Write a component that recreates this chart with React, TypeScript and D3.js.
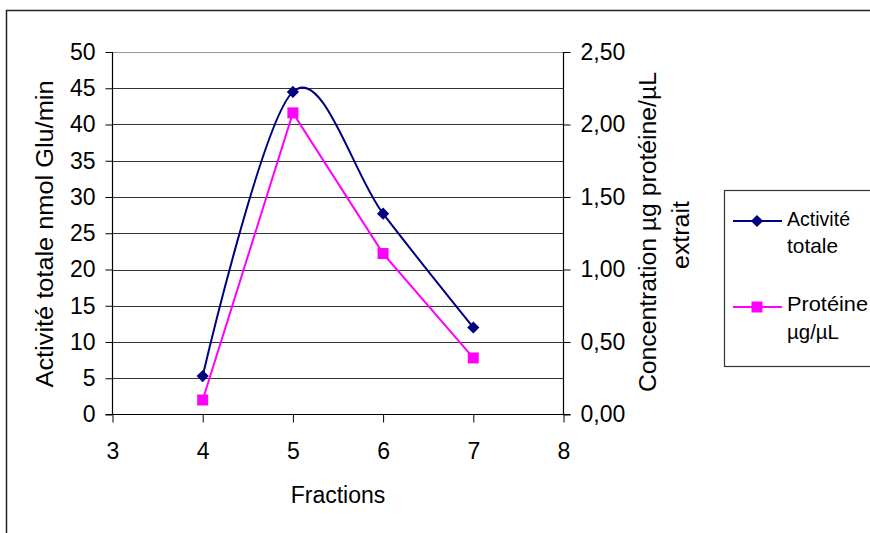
import * as d3 from "d3";
import {useEffect, useRef} from "react";

const fractions = [4, 5, 6, 7];
const activite = [5.3, 44.5, 27.7, 12.0];
const proteine = [0.1, 2.08, 1.11, 0.39];
const xTicks = [3, 4, 5, 6, 7, 8];
const yLeftTicks = [0, 5, 10, 15, 20, 25, 30, 35, 40, 45, 50];
const yRightTicks = [0, 0.5, 1, 1.5, 2, 2.5];

const W = 870, H = 533;
const FONT = "'Liberation Sans', Arial, sans-serif";

export default function App() {
    const svgRef = useRef<SVGSVGElement | null>(null);

    useEffect(() => {
        const svg = d3.select(svgRef.current);
        svg.selectAll("*").remove();

        const left = 112.5, right = 563.5, top = 52, bottom = 414.5;

        const x = d3.scaleLinear().domain([3, 8]).range([left, right]);
        const yL = d3.scaleLinear().domain([0, 50]).range([bottom, top]);
        const yR = d3.scaleLinear().domain([0, 2.5]).range([bottom, top]);

        // outer frame
        svg.append("rect")
            .attr("x", 6.5).attr("y", 10.5)
            .attr("width", W + 20).attr("height", H + 20)
            .attr("fill", "white").attr("stroke", "#222").attr("stroke-width", 1.5);

        // gridlines
        svg.append("g")
            .selectAll("line")
            .data(yLeftTicks.slice(1))
            .enter()
            .append("line")
            .attr("x1", left).attr("x2", right)
            .attr("y1", d => Math.round(yL(d)) + 0.5)
            .attr("y2", d => Math.round(yL(d)) + 0.5)
            .attr("stroke", d => d === 50 ? "#999" : "#333")
            .attr("stroke-width", 1);

        // axes
        const gL = svg.append("g")
            .attr("transform", `translate(${left},0)`)
            .call(d3.axisLeft(yL).tickValues(yLeftTicks).tickSize(7).tickPadding(10).tickFormat(d3.format("d")));
        const commaFmt = (d: number) => d3.format(".2f")(d).replace(".", ",");
        const gR = svg.append("g")
            .attr("transform", `translate(${right},0)`)
            .call(d3.axisRight(yR).tickValues(yRightTicks).tickSize(7).tickPadding(10).tickFormat(d => commaFmt(+d)));
        const gB = svg.append("g")
            .attr("transform", `translate(0,${bottom})`)
            .call(d3.axisBottom(x).tickValues(xTicks).tickSize(8).tickPadding(20).tickFormat(d3.format("d")));

        [gL, gR, gB].forEach(g => {
            g.attr("font-size", null).attr("font-family", null);
            g.select(".domain").attr("stroke", "#000").attr("stroke-width", 1.2);
            g.selectAll(".tick line").attr("stroke", "#000");
            g.selectAll(".tick text")
                .style("font-family", FONT)
                .style("font-size", "23px")
                .attr("fill", "#000");
        });
        gL.select(".domain").attr("d", `M0,${top}V${bottom}`);
        gR.select(".domain").attr("d", `M0,${top}V${bottom}`);
        gB.select(".domain").attr("d", `M${left - 7},0H${right + 7}`);

        // axis titles
        svg.append("text")
            .attr("transform", `translate(53,234) rotate(-90)`)
            .attr("text-anchor", "middle")
            .style("font-family", FONT).style("font-size", "23px")
            .attr("textLength", 307).attr("lengthAdjust", "spacingAndGlyphs")
            .text("Activité totale nmol Glu/min");

        svg.append("text")
            .attr("transform", `translate(656,232) rotate(-90)`)
            .attr("text-anchor", "middle")
            .style("font-family", FONT).style("font-size", "23px")
            .attr("textLength", 320).attr("lengthAdjust", "spacingAndGlyphs")
            .text("Concentration µg protéine/µL");
        svg.append("text")
            .attr("transform", `translate(689,235) rotate(-90)`)
            .attr("text-anchor", "middle")
            .style("font-family", FONT).style("font-size", "23px")
            .attr("textLength", 68).attr("lengthAdjust", "spacingAndGlyphs")
            .text("extrait");

        svg.append("text")
            .attr("x", 338).attr("y", 503)
            .attr("text-anchor", "middle")
            .style("font-family", FONT).style("font-size", "23px")
            .text("Fractions");

        // series: activite (smoothed)
        const lineA = d3.line<number>()
            .x((d, i) => x(fractions[i]))
            .y(d => yL(d))
            .curve(d3.curveCardinal.tension(0));
        svg.append("path")
            .attr("d", lineA(activite))
            .attr("fill", "none").attr("stroke", "#000080").attr("stroke-width", 2);

        const lineP = d3.line<number>()
            .x((d, i) => x(fractions[i]))
            .y(d => yR(d));
        svg.append("path")
            .attr("d", lineP(proteine))
            .attr("fill", "none").attr("stroke", "#FF00FF").attr("stroke-width", 2);

        const diamond = d3.symbol().type(d3.symbolDiamond2).size(95);
        svg.append("g")
            .selectAll("path")
            .data(activite)
            .enter()
            .append("path")
            .attr("d", diamond)
            .attr("transform", (d, i) => `translate(${x(fractions[i])},${yL(d)})`)
            .attr("fill", "#000080");

        svg.append("g")
            .selectAll("rect")
            .data(proteine)
            .enter()
            .append("rect")
            .attr("x", (d, i) => x(fractions[i]) - 5.5)
            .attr("y", d => yR(d) - 5.5)
            .attr("width", 11).attr("height", 11)
            .attr("fill", "#FF00FF");

        // legend
        const lg = svg.append("g");
        lg.append("rect")
            .attr("x", 724.5).attr("y", 190.5)
            .attr("width", 160).attr("height", 176)
            .attr("fill", "white").attr("stroke", "#333").attr("stroke-width", 1.2);

        lg.append("line").attr("x1", 733).attr("x2", 782).attr("y1", 221).attr("y2", 221)
            .attr("stroke", "#000080").attr("stroke-width", 2);
        lg.append("path").attr("d", diamond).attr("transform", "translate(757,221)").attr("fill", "#000080");
        lg.append("line").attr("x1", 733).attr("x2", 782).attr("y1", 307).attr("y2", 307)
            .attr("stroke", "#FF00FF").attr("stroke-width", 2);
        lg.append("rect").attr("x", 751.5).attr("y", 301.5).attr("width", 11).attr("height", 11).attr("fill", "#FF00FF");

        const legTexts = [
            {t: "Activité", y: 226, w: 63},
            {t: "totale", y: 253, w: 51},
            {t: "Protéine", y: 311, w: 81},
            {t: "µg/µL", y: 339, w: 52},
        ];
        lg.selectAll("text.leg")
            .data(legTexts)
            .enter()
            .append("text")
            .attr("class", "leg")
            .attr("x", 787).attr("y", d => d.y)
            .attr("textLength", d => d.w).attr("lengthAdjust", "spacingAndGlyphs")
            .style("font-family", FONT).style("font-size", "21px")
            .text(d => d.t);
    }, []);

    return (
        <div style={{position: "absolute", left: 0, top: 0}}>
            <svg ref={svgRef} width={W} height={H} style={{display: "block", background: "white"}}/>
        </div>
    );
}
